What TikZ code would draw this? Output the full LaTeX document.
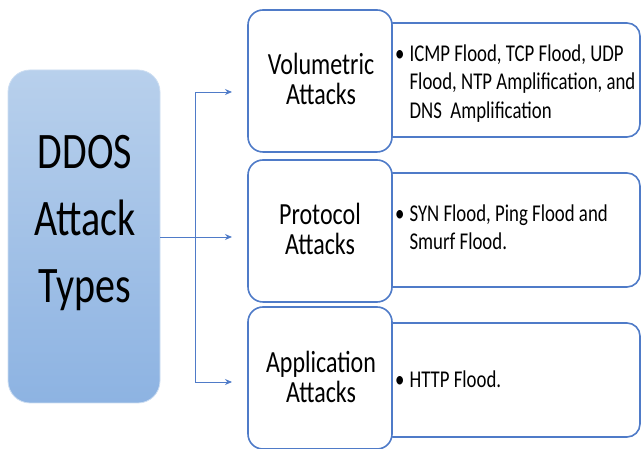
\documentclass[tikz,border=0pt]{standalone}
\usepackage{fontspec}
\setmainfont{Carlito}
\usepackage{graphicx}
\usetikzlibrary{arrows.meta}
\definecolor{boxblue}{HTML}{4F7BC8}
\definecolor{ddtop}{HTML}{B8D0EC}
\definecolor{ddbot}{HTML}{8DB3E2}
\tikzset{
  ddbox/.style={rectangle, rounded corners=22pt, top color=ddtop, bottom color=ddbot, draw=ddtop!70!white, line width=0.8pt, minimum width=152pt, minimum height=333pt, inner sep=0pt},
  catbox/.style={rectangle, rounded corners=15pt, fill=white, draw=boxblue, line width=1.6pt, minimum width=144pt, minimum height=142pt, inner sep=0pt},
  listbox/.style={rectangle, rounded corners=13pt, fill=white, draw=boxblue, line width=1.6pt, minimum width=260pt, minimum height=114pt, inner sep=0pt},
  ddtext/.style={font=\fontsize{40}{52.7}\selectfont, align=center, inner sep=0pt, yscale=1.28, transform shape},
  cattext/.style={font=\fontsize{24}{23.4}\selectfont, align=center, inner sep=0pt, yscale=1.28, transform shape},
  listtext/.style={font=\fontsize{18.8}{22.3}\selectfont, anchor=west, inner sep=0pt, yscale=1.28, transform shape},
  conn/.style={draw=boxblue, line width=0.9pt},
  arr/.style={conn, -{Stealth[length=7pt,width=6pt]}}
}
\begin{document}
\begin{tikzpicture}[x=1pt,y=1pt]
\useasboundingbox (0,0) rectangle (642,449);
% left box
\node[ddbox] (ddos) at (84,212.5) {};
\node[ddtext] (ddlabel) at (85,226) {DDOS\\Attack\\Types};
% list boxes (behind)
\node[listbox] (l1) at (510,369) {};
\node[listbox] (l2) at (510,219) {};
\node[listbox] (l3) at (510,69) {};
% category boxes
\node[catbox] (c1) at (320,368) {};
\node[catbox] (c2) at (320,218) {};
\node[catbox] (c3) at (320,71) {};
\node[cattext] (c1t) at (321,370.5) {Volumetric\\Attacks};
\node[cattext] (c2t) at (320,220) {Protocol\\Attacks};
\node[cattext] (c3t) at (321,72) {Application\\Attacks};
% list texts
\node[listtext] (l1t) at (395,365) {\begin{tabular}{@{}l@{\hspace{5pt}}l@{}}\textbullet & ICMP Flood, TCP Flood, UDP\\ & Flood, NTP Amplification, and\\ & DNS\ \ Amplification\end{tabular}};
\node[listtext] (l2t) at (395,219) {\begin{tabular}{@{}l@{\hspace{5pt}}l@{}}\textbullet & SYN Flood, Ping Flood and\\ & Smurf Flood.\end{tabular}};
\node[listtext] (l3t) at (395,67) {\begin{tabular}{@{}l@{\hspace{5pt}}l@{}}\textbullet & HTTP Flood.\end{tabular}};
% connectors
\coordinate (j) at (195,212);
\coordinate (t1) at (232,357);
\coordinate (t2) at (232,212);
\coordinate (t3) at (232,67);
\draw[conn] (ddos.east |- j) -- (j);
\draw[arr] (j) |- (t1);
\draw[arr] (j) -- (t2);
\draw[arr] (j) |- (t3);
\end{tikzpicture}
\end{document}
